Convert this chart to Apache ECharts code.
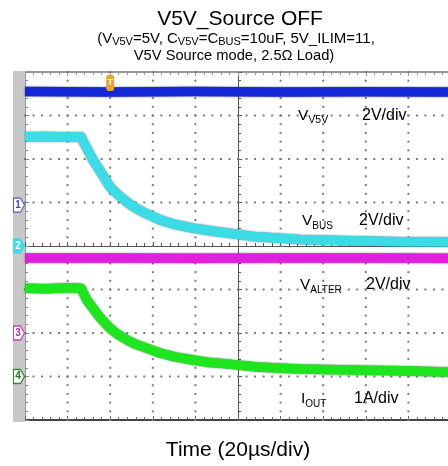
<!DOCTYPE html>
<html><head><meta charset="utf-8">
<script src="https://cdn.jsdelivr.net/npm/echarts@6/dist/echarts.min.js"></script>
<style>html,body{margin:0;padding:0;background:#fff}#c{width:448px;height:466px}</style>
</head><body><div id="c"></div>
<script>
// ---- data read from the scope shot ----
// time in microseconds (20 us/div, 10 div)
const timeUs   = [0, 10, 20, 26.3, 27.4, 29, 31.9, 35, 39.9, 43.2, 47.9, 51.6, 55.4, 63.4, 70.4, 78.9, 86.9, 94.8, 108.9, 129, 152.6, 176, 200];
const vbusV    = [5.02, 5.03, 5.01, 5.02, 4.80, 4.50, 3.96, 3.49, 2.72, 2.40, 2.02, 1.77, 1.56, 1.20, 0.99, 0.82, 0.70, 0.60, 0.42, 0.30, 0.24, 0.20, 0.18];
const ioutA    = [2.03, 2.02, 2.04, 2.03, 1.92, 1.76, 1.57, 1.37, 1.11, 0.98, 0.84, 0.75, 0.68, 0.54, 0.45, 0.38, 0.32, 0.29, 0.22, 0.17, 0.15, 0.13, 0.10];
const flatTimeUs = [0, 40, 80, 120, 160, 200];
const v5vV     = [5.22, 5.20, 5.22, 5.20, 5.21, 5.20];
const valterV  = [3.45, 3.45, 3.44, 3.45, 3.45, 3.44];
const triggerUs = 40;
// scope graticule (dotted division lines, not counting border / centre lines)
const gridTimesUs = [20, 40, 60, 80, 120, 140, 160, 180];
const gridLevelsDiv = [-3, -2, -1, 1, 2, 3];
const dotsPerDiv = 5;
// channel settings: units per division, ground level (divisions from centre)
const chNames  = ['V5V', 'VBUS', 'VALTER', 'IOUT'];
const chScale  = [2, 2, 2, 1];
const chGround = [0.94, 0, -2, -3];

const FONT = '"Liberation Sans", Arial, sans-serif';
const colors = ['#1428d8', '#3cdce6', '#e020dc', '#1ee61e'];
const edge = ['rgba(0,0,90,0.7)', 'rgba(0,80,90,0.75)', 'rgba(90,0,90,0.7)', 'rgba(0,80,0,0.75)'];

function toDiv(ts, vs, ch) { return ts.map((t, i) => [t, vs[i] / chScale[ch] + chGround[ch]]); }

const chMarkerStyle = [
  {fill: '#fff', border: '#5a5ac8', text: '#4a4ab8'},
  {fill: '#3cdce6', border: '#3cdce6', text: '#fff'},
  {fill: '#fff', border: '#c040c0', text: '#b030b0'},
  {fill: '#fff', border: '#2a8a2a', text: '#1a7a1a'}
];
function chMarker(ch) {
  const s = chMarkerStyle[ch];
  return {
    coord: [0, chGround[ch]],
    symbol: 'path://M0,0 L7,0 L11,7 L7,14 L0,14 Z',
    symbolSize: [11, 14],
    symbolOffset: [-6, 0],
    itemStyle: {color: s.fill, borderColor: s.border, borderWidth: 1.2},
    label: {show: true, formatter: String(ch + 1), color: s.text, fontSize: 10, fontWeight: 'bold', fontFamily: FONT, offset: [-1, 0]}
  };
}

const seriesData = [toDiv(flatTimeUs, v5vV, 0), toDiv(timeUs, vbusV, 1), toDiv(flatTimeUs, valterV, 2), toDiv(timeUs, ioutA, 3)];

const series = seriesData.map((d, ch) => ({
  name: chNames[ch], type: 'line', data: d, xAxisIndex: 0, yAxisIndex: 0,
  showSymbol: false, smooth: false, silent: true, animation: false, z: 3,
  lineStyle: {color: colors[ch], width: 9.5, shadowColor: edge[ch], shadowBlur: 2, join: 'round', cap: 'butt'},
  markPoint: {silent: true, animation: false, z: 6, data: ch === 0 ? [chMarker(ch), {
      coord: [triggerUs, 3.75], symbol: 'roundRect', symbolSize: [8, 16],
      itemStyle: {color: '#f0a030'},
      label: {show: true, formatter: 'T', color: '#fff', fontSize: 9, fontWeight: 'bold', fontFamily: FONT}
    }] : [chMarker(ch)]}
}));

// dotted graticule: one dot every 1/5 division along each division line (placed through the axes)
const graticuleDots = [];
gridTimesUs.forEach(t => { for (let k = 0; k <= 8 * dotsPerDiv; k++) graticuleDots.push([t, -4 + k / dotsPerDiv]); });
gridLevelsDiv.forEach(v => { for (let k = 0; k <= 10 * dotsPerDiv; k++) graticuleDots.push([k * 20 / dotsPerDiv, v]); });
series.unshift({
  name: 'graticule', type: 'scatter', data: graticuleDots, xAxisIndex: 0, yAxisIndex: 0,
  symbol: 'rect', symbolSize: 2, silent: true, animation: false, z: 1, large: false,
  itemStyle: {color: '#7a7a7a', opacity: 1}
});

function ticks(color) {
  return {
    axisTick: {show: true, inside: true, length: 4, lineStyle: {color: color}},
    minorTick: {show: true, splitNumber: 5, length: 3, lineStyle: {color: color}}
  };
}

const chart = echarts.init(document.getElementById('c'), null, {renderer: 'canvas'});
chart.setOption({
  backgroundColor: '#fff',
  animation: false,
  grid: {left: 25, top: 72, width: 426, height: 348, show: false, outerBoundsMode: 'none', containLabel: false},
  xAxis: [
    Object.assign({type: 'value', min: 0, max: 200, interval: 20, position: 'bottom',
     axisLine: {show: true, onZero: false, lineStyle: {color: '#444', width: 2}},
     axisLabel: {show: false}, splitLine: {show: false},
     name: 'Time (20µs/div)', nameLocation: 'middle', nameGap: 20,
     nameTextStyle: {fontSize: 21, fontFamily: FONT, color: '#000'}}, ticks('#666')),
    Object.assign({type: 'value', min: 0, max: 200, interval: 20, position: 'bottom', offset: -174,
     axisLine: {show: true, onZero: false, lineStyle: {color: '#555', width: 1}},
     axisLabel: {show: false}, splitLine: {show: false}}, ticks('#555')),
    Object.assign({type: 'value', min: 0, max: 200, interval: 20, position: 'top',
     axisLine: {show: true, onZero: false, lineStyle: {color: '#999', width: 2}},
     axisLabel: {show: false}, splitLine: {show: false}}, ticks('#999'))
  ],
  yAxis: [
    Object.assign({type: 'value', min: -4, max: 4, interval: 1, position: 'left',
     axisLine: {show: true, onZero: false, lineStyle: {color: '#777', width: 1.5}},
     axisLabel: {show: false}, splitLine: {show: false}}, ticks('#888')),
    Object.assign({type: 'value', min: -4, max: 4, interval: 1, position: 'left', offset: -213,
     axisLine: {show: true, onZero: false, lineStyle: {color: '#555', width: 1}},
     axisLabel: {show: false}, splitLine: {show: false}}, ticks('#555'))
  ],
  graphic: [
    {type: 'rect', z: 1, shape: {x: 13, y: 71, width: 12, height: 351}, style: {fill: '#c8c8c8'}},
    {type: 'text', z: 10, x: 240, y: 19.5, style: {text: 'V5V_Source OFF', font: '21px ' + FONT, fill: '#000', textAlign: 'center', textVerticalAlign: 'middle'}},
    {type: 'text', z: 10, x: 236, y: 39, style: {text: '(V{s|V5V}=5V, C{s|V5V}=C{s|BUS}=10uF, 5V_ILIM=11,', fontSize: 15, fontFamily: FONT, fill: '#000', textAlign: 'center', textVerticalAlign: 'middle',
      rich: {s: {fontSize: 11, fontFamily: FONT, fill: '#000', verticalAlign: 'bottom', padding: [0, 0, -1, 0]}}}},
    {type: 'text', z: 10, x: 234, y: 55.5, style: {text: 'V5V Source mode, 2.5Ω Load)', fontSize: 14.7, fontFamily: FONT, fill: '#000', textAlign: 'center', textVerticalAlign: 'middle'}},
    // channel annotations
    {type: 'text', z: 10, x: 298, y: 116, style: {text: 'V{s|V5V}', fontSize: 15.5, fontFamily: FONT, fill: '#000', textVerticalAlign: 'middle', rich: {s: {fontSize: 10.5, fontFamily: FONT, fill: '#000', verticalAlign: 'bottom', padding: [0, 0, -2, 0]}}}},
    {type: 'text', z: 10, x: 362, y: 116, style: {text: '2V/div', fontSize: 16, fontFamily: FONT, fill: '#000', textVerticalAlign: 'middle'}},
    {type: 'text', z: 10, x: 302, y: 221, style: {text: 'V{s|BUS}', fontSize: 15.5, fontFamily: FONT, fill: '#000', textVerticalAlign: 'middle', rich: {s: {fontSize: 10, fontFamily: FONT, fill: '#000', verticalAlign: 'bottom', padding: [0, 0, -2, 0]}}}},
    {type: 'text', z: 10, x: 359, y: 221, style: {text: '2V/div', fontSize: 16, fontFamily: FONT, fill: '#000', textVerticalAlign: 'middle'}},
    {type: 'text', z: 10, x: 300, y: 285, style: {text: 'V{s|ALTER}', fontSize: 15.5, fontFamily: FONT, fill: '#000', textVerticalAlign: 'middle', rich: {s: {fontSize: 10, fontFamily: FONT, fill: '#000', verticalAlign: 'bottom', padding: [0, 0, -2, 0]}}}},
    {type: 'text', z: 10, x: 366, y: 285, style: {text: '2V/div', fontSize: 16, fontFamily: FONT, fill: '#000', textVerticalAlign: 'middle'}},
    {type: 'text', z: 10, x: 301, y: 399, style: {text: 'I{s|OUT}', fontSize: 15.5, fontFamily: FONT, fill: '#000', textVerticalAlign: 'middle', rich: {s: {fontSize: 10, fontFamily: FONT, fill: '#000', verticalAlign: 'bottom', padding: [0, 0, -2, 0]}}}},
    {type: 'text', z: 10, x: 354, y: 399, style: {text: '1A/div', fontSize: 16, fontFamily: FONT, fill: '#000', textVerticalAlign: 'middle'}}
  ],
  series: series
});
</script></body></html>
